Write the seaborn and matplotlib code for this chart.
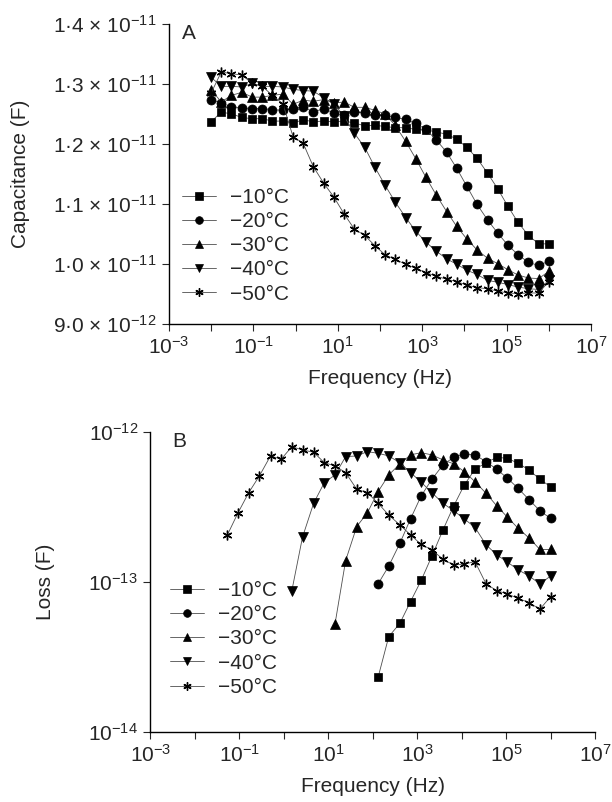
import numpy as np
import matplotlib
matplotlib.use('Agg')
import matplotlib.pyplot as plt
import seaborn as sns

freq_exp = [-2.00, -1.76, -1.52, -1.27, -1.03, -0.79, -0.55, -0.30, -0.06, 0.18,
            0.42, 0.67, 0.91, 1.15, 1.39, 1.64, 1.88, 2.12, 2.36, 2.61,
            2.85, 3.09, 3.33, 3.58, 3.82, 4.06, 4.30, 4.55, 4.79, 5.03,
            5.27, 5.52, 5.76, 6.00]

temps = ['\u221210°C', '\u221220°C', '\u221230°C', '\u221240°C', '\u221250°C']

# panel A: capacitance, units of 1e-12 F
cap_10 = [12.37, 12.53, 12.50, 12.44, 12.42, 12.42, 12.38, 12.38, 12.35, 12.40,
          12.37, 12.38, 12.37, 12.38, 12.35, 12.30, 12.31, 12.29, 12.27, 12.27,
          12.24, 12.23, 12.20, 12.16, 12.08, 11.94, 11.76, 11.51, 11.25, 10.96,
          10.69, 10.47, 10.33, 10.33]
cap_20 = [12.74, 12.68, 12.62, 12.60, 12.59, 12.59, 12.57, 12.56, 12.59, 12.62,
          12.53, 12.59, 12.51, 12.48, 12.53, 12.51, 12.48, 12.48, 12.44, 12.41,
          12.34, 12.24, 12.07, 11.86, 11.59, 11.29, 10.99, 10.73, 10.51, 10.31,
          10.15, 10.02, 9.97, 10.04]
cap_30 = [12.90, 12.70, 12.81, 12.86, 12.78, 12.78, 12.81, 12.83, 12.66, 12.73,
          12.71, 12.74, 12.68, 12.70, 12.61, 12.61, 12.56, 12.50, 12.31, 12.04,
          11.75, 11.44, 11.15, 10.87, 10.62, 10.41, 10.23, 10.09, 10.00, 9.90,
          9.81, 9.76, 9.75, 9.87]
cap_40 = [13.11, 12.96, 12.96, 12.95, 13.01, 12.96, 12.96, 12.95, 12.91, 12.89,
          12.88, 12.77, 12.67, 12.46, 12.18, 11.94, 11.61, 11.31, 11.03, 10.77,
          10.54, 10.36, 10.21, 10.08, 9.99, 9.89, 9.82, 9.72, 9.69, 9.65,
          9.61, 9.58, 9.57, 9.72]
cap_50 = [12.85, 13.20, 13.17, 13.15, 13.01, 12.96, 12.81, 12.67, 12.12, 12.01,
          11.62, 11.34, 11.11, 10.83, 10.58, 10.47, 10.30, 10.15, 10.07, 9.99,
          9.92, 9.85, 9.79, 9.74, 9.70, 9.64, 9.60, 9.58, 9.54, 9.51,
          9.50, 9.51, 9.51, 9.70]

# panel B: loss, units of 1e-13 F; each series starts at a later frequency
loss_10 = [0.23, 0.43, 0.527, 0.736, 1.02, 1.48, 2.21, 3.19, 4.41, 5.61,
           6.21, 6.74, 6.64, 6.15, 5.55, 4.81, 4.30]
loss_20 = [0.966, 1.27, 1.80, 2.62, 3.73, 4.81, 6.00, 6.75, 7.10, 7.00,
           6.31, 5.61, 4.89, 4.19, 3.51, 2.97, 2.64]
loss_30 = [0.52, 1.38, 2.33, 2.88, 3.98, 5.14, 6.10, 7.00, 7.24, 7.00,
           6.48, 6.10, 5.41, 4.64, 3.88, 3.20, 2.69, 2.27, 1.95, 1.64, 1.64]
loss_40 = [0.87, 1.98, 3.33, 4.57, 5.14, 6.81, 6.89, 7.36, 7.17, 6.89,
           6.20, 5.34, 4.60, 3.92, 3.33, 2.97, 2.62, 2.30, 1.76, 1.51,
           1.35, 1.20, 1.09, 0.966, 1.09]
loss_50 = [2.05, 2.88, 3.92, 5.07, 6.89, 6.55, 7.94, 7.55, 7.29, 6.21,
           5.91, 5.33, 4.13, 3.92, 3.33, 2.78, 2.39, 2.05, 1.77, 1.63,
           1.41, 1.29, 1.31, 1.36, 0.966, 0.871, 0.828, 0.774, 0.724, 0.655, 0.794]
loss_start = [17, 17, 13, 9, 3]

cap_ticks = [9e-12, 1.0e-11, 1.1e-11, 1.2e-11, 1.3e-11, 1.4e-11]
cap_ticklabels = ['9·0 × 10$^{-12}$', '1·0 × 10$^{-11}$', '1·1 × 10$^{-11}$',
                  '1·2 × 10$^{-11}$', '1·3 × 10$^{-11}$', '1·4 × 10$^{-11}$']
freq_tick_exp = [-3, -2, -1, 0, 1, 2, 3, 4, 5, 6, 7]
freq_ticklabels = ['$10^{-3}$', '', '$10^{-1}$', '', '$10^{1}$', '',
                   '$10^{3}$', '', '$10^{5}$', '', '$10^{7}$']
loss_ticks = [1e-14, 1e-13, 1e-12]
loss_ticklabels = ['$10^{-14}$', '$10^{-13}$', '$10^{-12}$']

sns.set_style('ticks')
plt.rcParams['font.family'] = ['Liberation Sans', 'DejaVu Sans']
plt.rcParams['mathtext.fontset'] = 'custom'
plt.rcParams['mathtext.rm'] = 'Liberation Sans'
plt.rcParams['mathtext.it'] = 'Liberation Sans:italic'
plt.rcParams['mathtext.bf'] = 'Liberation Sans:bold'

markers = ['s', 'o', '^', 'v', (6, 2, 0)]
msizes = [6, 6.5, 7, 7, 7]
FS = 15

freq = 10 ** np.array(freq_exp)

fig = plt.figure(figsize=(6.12, 8.02), dpi=100)
axA = fig.add_axes([0.2761, 0.5966, 0.6895, 0.3734])
axB = fig.add_axes([0.2459, 0.0877, 0.7263, 0.3741])


def draw(ax, x, y, marker, ms, label):
    sns.lineplot(x=x, y=y, ax=ax, color='0.3', lw=0.6, marker=marker,
                 markersize=ms, mfc='black', mec='black',
                 mew=1.0 if isinstance(marker, tuple) else 0.5,
                 label=label, legend=False, sort=False)


caps = [cap_10, cap_20, cap_30, cap_40, cap_50]
for vals, m, ms, t in zip(caps, markers, msizes, temps):
    draw(axA, freq, np.array(vals) * 1e-12, m, ms, t)

losses = [loss_10, loss_20, loss_30, loss_40, loss_50]
for vals, start, m, ms, t in zip(losses, loss_start, markers, msizes, temps):
    draw(axB, freq[start:start + len(vals)], np.array(vals) * 1e-13, m, ms, t)

for ax in (axA, axB):
    ax.set_xscale('log')
    ax.set_xlim(1e-3, 1e7)
    ax.xaxis.set_major_locator(matplotlib.ticker.FixedLocator(10.0 ** np.array(freq_tick_exp)))
    ax.xaxis.set_minor_locator(matplotlib.ticker.NullLocator())
    ax.set_xticklabels(freq_ticklabels)
    ax.set_xlabel('Frequency (Hz)', fontsize=FS, labelpad=8)
    ax.tick_params(axis='both', which='major', direction='out', length=5,
                   width=0.8, labelsize=FS, pad=4)
    for s in ('top', 'right'):
        ax.spines[s].set_visible(False)
    for s in ('left', 'bottom'):
        ax.spines[s].set_linewidth(1.0)
        ax.spines[s].set_color('black')
    ax.legend(loc='upper left', frameon=False, fontsize=FS, handlelength=1.6,
              handletextpad=0.7, labelspacing=0.25, borderpad=0,
              borderaxespad=0, numpoints=1, markerscale=0.85)

axA.set_ylim(9e-12, 1.4e-11)
axA.set_yticks(cap_ticks)
axA.set_yticklabels(cap_ticklabels)
axA.set_ylabel('Capacitance (F)', fontsize=FS)
axA.yaxis.set_label_coords(-0.33, 0.5)
axA.legend_.set_bbox_to_anchor((0.032, 0.453), transform=axA.transAxes)
axA.text(0.03, 0.97, 'A', transform=axA.transAxes, fontsize=FS, va='center', ha='left')

axB.set_yscale('log')
axB.set_ylim(1e-14, 1e-12)
axB.yaxis.set_major_locator(matplotlib.ticker.FixedLocator(loss_ticks))
axB.yaxis.set_minor_locator(matplotlib.ticker.NullLocator())
axB.set_yticklabels(loss_ticklabels)
axB.set_ylabel('Loss (F)', fontsize=FS)
axB.yaxis.set_label_coords(-0.215, 0.5)
axB.legend_.set_bbox_to_anchor((0.045, 0.502), transform=axB.transAxes)
axB.text(0.05, 0.967, 'B', transform=axB.transAxes, fontsize=FS, va='center', ha='left')

fig.savefig('out.png', dpi=100)
